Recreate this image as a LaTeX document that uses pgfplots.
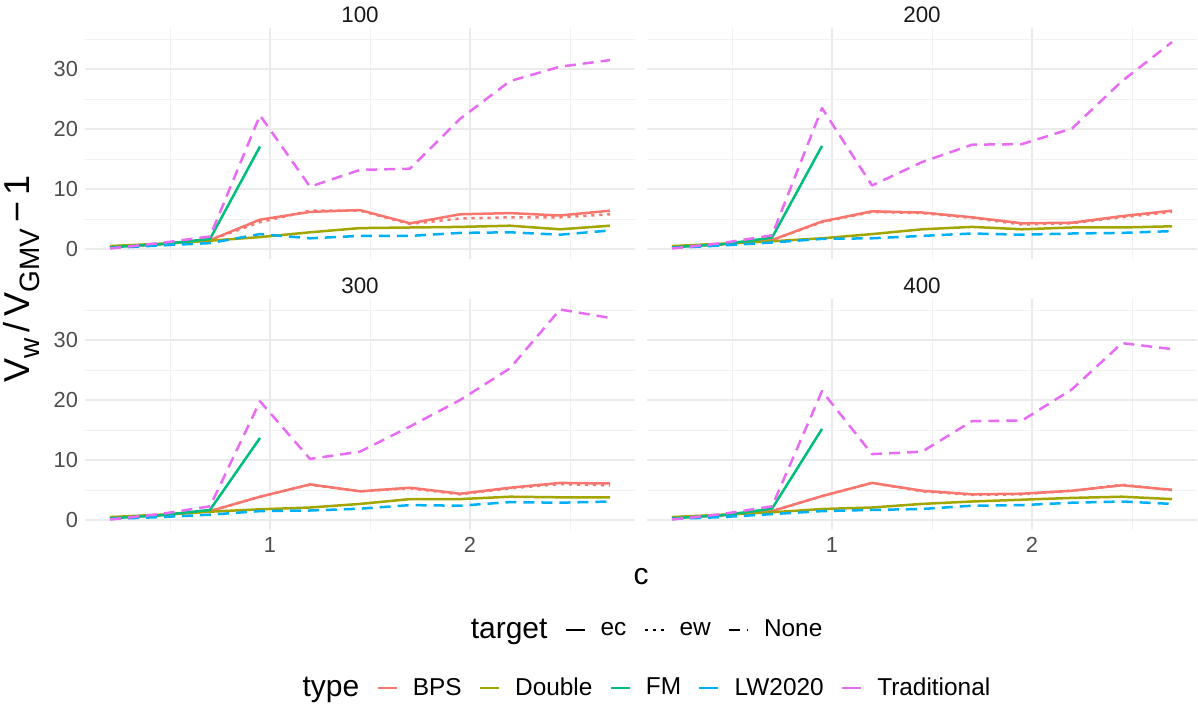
\documentclass[border=0pt]{standalone}
\usepackage{pgfplots}
\usepackage{pgfplotstable}
\pgfplotsset{compat=1.18}
\usepackage{fontspec}
\setmainfont{Liberation Sans}
\definecolor{cBPS}{HTML}{F8766D}
\definecolor{cDouble}{HTML}{A3A500}
\definecolor{cFM}{HTML}{00BF7D}
\definecolor{cLW}{HTML}{00B0F6}
\definecolor{cTrad}{HTML}{E76BF3}
\definecolor{gridc}{HTML}{EBEBEB}
\definecolor{ticktext}{HTML}{4D4D4D}

\pgfplotstableread{
c    bec  bew  dbl  fm   lw   trad
0.20 0.4  0.4  0.5  0.3  0.2  0.1
0.45 0.8  0.8  0.9  0.8  0.6  1.0
0.70 1.5  1.5  1.4  1.7  1.0  2.1
0.95 4.9  4.5  2.0  17.1 2.5  22.3
1.20 6.2  6.4  2.8  nan  1.8  10.4
1.45 6.5  6.4  3.5  nan  2.2  13.2
1.70 4.3  4.2  3.6  nan  2.2  13.4
1.95 5.8  5.1  3.7  nan  2.7  21.7
2.20 6.0  5.3  3.9  nan  2.8  28.0
2.45 5.6  5.3  3.3  nan  2.4  30.4
2.70 6.4  5.8  3.9  nan  3.1  31.5
}\tA
\pgfplotstableread{
c    bec  bew  dbl  fm   lw   trad
0.20 0.4  0.4  0.5  0.3  0.2  0.1
0.45 0.8  0.8  0.9  0.8  0.6  1.0
0.70 1.5  1.5  1.3  1.9  1.1  2.3
0.95 4.6  4.5  1.8  17.2 1.7  23.5
1.20 6.3  6.2  2.5  nan  1.8  10.6
1.45 6.1  6.0  3.3  nan  2.2  14.5
1.70 5.3  5.2  3.7  nan  2.6  17.4
1.95 4.3  4.1  3.3  nan  2.4  17.5
2.20 4.4  4.3  3.6  nan  2.6  20.1
2.45 5.5  5.3  3.6  nan  2.7  28.0
2.70 6.4  6.2  3.8  nan  3.0  34.5
}\tB
\pgfplotstableread{
c    bec  bew  dbl  fm   lw   trad
0.20 0.4  0.4  0.5  0.3  0.2  0.1
0.45 0.8  0.8  0.9  0.8  0.5  1.0
0.70 1.5  1.5  1.4  1.7  0.9  2.3
0.95 3.9  3.9  1.8  13.7 1.5  19.8
1.20 5.95 5.9  2.1  nan  1.6  10.2
1.45 4.8  4.8  2.7  nan  1.9  11.4
1.70 5.4  5.3  3.5  nan  2.5  15.6
1.95 4.4  4.3  3.5  nan  2.4  20.0
2.20 5.4  5.3  3.9  nan  3.0  25.3
2.45 6.2  6.0  3.8  nan  2.9  35.1
2.70 6.1  5.8  3.8  nan  3.1  33.7
}\tC
\pgfplotstableread{
c    bec  bew  dbl  fm   lw   trad
0.20 0.4  0.4  0.5  0.3  0.2  0.1
0.45 0.8  0.8  0.9  0.8  0.5  1.0
0.70 1.5  1.5  1.3  1.9  1.0  2.3
0.95 4.0  4.0  1.85 15.2 1.5  21.5
1.20 6.2  6.2  2.1  nan  1.7  11.0
1.45 4.9  4.8  2.7  nan  1.85 11.4
1.70 4.3  4.2  3.1  nan  2.4  16.5
1.95 4.4  4.3  3.4  nan  2.5  16.6
2.20 4.9  4.9  3.7  nan  2.9  21.8
2.45 5.8  5.9  3.9  nan  3.1  29.5
2.70 5.05 5.0  3.5  nan  2.7  28.5
}\tD

\pgfplotsset{
  panel/.style={
    scale only axis, width=275pt, height=115.5pt,
    xmin=0.075, xmax=2.825, ymin=-1.65, ymax=36.85,
    axis line style={draw=none},
    xtick={1,2}, ytick={0,10,20,30},
    minor xtick={0.5,1.5,2.5}, minor ytick={5,15,25,35},
    grid=both,
    major grid style={gridc, line width=0.7pt},
    minor grid style={gridc!70!white, line width=0.4pt},
    tick style={draw=none},
    ticklabel style={font=\fontsize{10.9}{13}\selectfont, text=ticktext},
    /pgf/number format/assume math mode=true,
    title style={font=\fontsize{11.2}{13}\selectfont, text=black!90, anchor=south, at={(0.5,1)}, yshift=-5.5pt, inner sep=2pt},
    legend image code/.code={\draw[##1] (0pt,0pt) -- (9.5pt,0pt);},
  },
  ln/.style={line width=1.25pt, line join=round, forget plot},
  ec/.style={solid},
  ew/.style={dash pattern=on 1.6pt off 2.4pt},
  none/.style={dash pattern=on 5.5pt off 3.5pt},
  leg/.style={draw=none, fill=none, anchor=center,
    legend columns=-1, font=\fontsize{12.2}{14}\selectfont,
    /tikz/every even column/.append style={column sep=6.5pt},
    /tikz/every odd column/.append style={column sep=5.5pt}},
}

\newcommand{\panelplots}[1]{%
  \addplot[cBPS, ln, ec] table[x=c,y=bec]{#1};
  \addplot[cBPS, ln, ew] table[x=c,y=bew]{#1};
  \addplot[cDouble, ln, ec] table[x=c,y=dbl]{#1};
  \addplot[cFM, ln, ec] table[x=c,y=fm]{#1};
  \addplot[cLW, ln, none] table[x=c,y=lw]{#1};
  \addplot[cTrad, ln, none] table[x=c,y=trad]{#1};
}
\newcommand{\sub}[1]{\raisebox{-0.28em}{\fontsize{14}{16}\selectfont #1}}

\begin{document}
\begin{tikzpicture}
\useasboundingbox (0,0) rectangle (599pt,354pt);

\begin{axis}[panel, at={(42.5pt,224.5pt)}, anchor=south west, title={100}, xticklabels={}]
\panelplots{\tA}
\end{axis}

\begin{axis}[panel, at={(323.5pt,224.5pt)}, anchor=south west, title={200}, xticklabels={}, yticklabels={}]
\panelplots{\tB}
\end{axis}

\begin{axis}[panel, at={(42.5pt,89pt)}, anchor=south west, title={300},
  legend style={leg, at={(1.011,-0.433)}},
  ]
\panelplots{\tC}
\addlegendimage{empty legend}
\addlegendentry[font=\fontsize{15}{18}\selectfont]{target}
\addlegendimage{black, line width=1.1pt, ec}
\addlegendentry{ec}
\addlegendimage{black, line width=1.1pt, ew}
\addlegendentry{ew}
\addlegendimage{black, line width=1.1pt, none}
\addlegendentry{None}
\end{axis}

\begin{axis}[panel, at={(323.5pt,89pt)}, anchor=south west, title={400}, yticklabels={},
  legend style={leg, at={(-0.011,-0.684)}},
  ]
\panelplots{\tD}
\addlegendimage{empty legend}
\addlegendentry[font=\fontsize{15}{18}\selectfont]{type}
\addlegendimage{cBPS, line width=1.25pt}
\addlegendentry{BPS}
\addlegendimage{cDouble, line width=1.25pt}
\addlegendentry{Double}
\addlegendimage{cFM, line width=1.25pt}
\addlegendentry{FM}
\addlegendimage{cLW, line width=1.25pt}
\addlegendentry{LW2020}
\addlegendimage{cTrad, line width=1.25pt}
\addlegendentry{Traditional}
\end{axis}

\node[font=\fontsize{15}{18}\selectfont] at (320.5pt,65.5pt) {c};
\node[rotate=90, font=\fontsize{18}{20}\selectfont] at (11pt,214.5pt) {V\sub{w}\,/\,V\sub{GMV}\,−\,1};
\end{tikzpicture}
\end{document}
